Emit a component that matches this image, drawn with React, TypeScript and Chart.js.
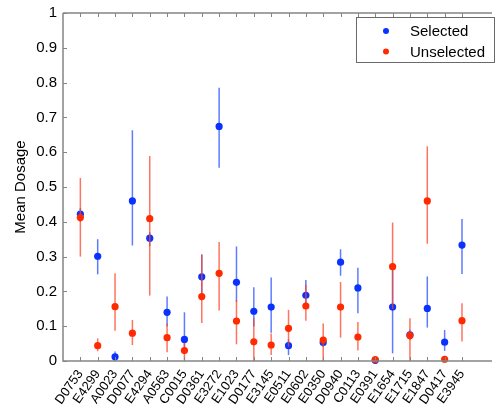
import { useEffect, useRef } from 'react';
import { Chart, registerables } from 'chart.js';

Chart.register(...registerables);

const categories = [
  'D0753', 'E4299', 'A0023', 'D0077', 'E4294', 'A0563', 'C0015', 'D0361',
  'E3272', 'E1023', 'D0177', 'E3145', 'E0511', 'E0602', 'E0350', 'D0940',
  'C0113', 'E0391', 'E1654', 'E1715', 'E1847', 'D0417', 'E3945',
];

const selectedMean = [
  0.422, 0.301, 0.012, 0.460, 0.353, 0.140, 0.062, 0.242,
  0.674, 0.226, 0.143, 0.155, 0.044, 0.189, 0.053, 0.284,
  0.210, 0.002, 0.155, 0.075, 0.151, 0.054, 0.333,
];
const selectedLow = [
  0.400, 0.249, 0.000, 0.332, 0.330, 0.100, 0.030, 0.180,
  0.555, 0.170, 0.099, 0.081, 0.017, 0.150, 0.040, 0.245,
  0.137, 0.000, 0.022, 0.060, 0.096, 0.029, 0.250,
];
const selectedHigh = [
  0.440, 0.350, 0.027, 0.663, 0.370, 0.185, 0.140, 0.305,
  0.785, 0.329, 0.212, 0.240, 0.062, 0.233, 0.065, 0.321,
  0.268, 0.005, 0.280, 0.090, 0.243, 0.089, 0.408,
];

const unselectedMean = [
  0.412, 0.044, 0.156, 0.080, 0.409, 0.067, 0.030, 0.185,
  0.252, 0.115, 0.055, 0.046, 0.094, 0.158, 0.060, 0.155,
  0.069, 0.004, 0.271, 0.073, 0.460, 0.005, 0.116,
];
const unselectedLow = [
  0.300, 0.028, 0.087, 0.046, 0.188, 0.025, 0.000, 0.109,
  0.145, 0.048, 0.000, 0.017, 0.041, 0.116, 0.000, 0.067,
  0.030, 0.000, 0.150, 0.000, 0.337, 0.000, 0.056,
];
const unselectedHigh = [
  0.526, 0.065, 0.252, 0.118, 0.589, 0.108, 0.052, 0.307,
  0.342, 0.175, 0.123, 0.079, 0.147, 0.219, 0.108, 0.227,
  0.112, 0.008, 0.398, 0.123, 0.617, 0.010, 0.166,
];

const yTicks = [0, 0.1, 0.2, 0.3, 0.4, 0.5, 0.6, 0.7, 0.8, 0.9, 1];

const AXIS_COLOR = '#858585';
const FONT = 'Liberation Sans, Arial, sans-serif';

// Vertical error bars, drawn just before each dataset's markers.
const errorBarPlugin = {
  id: 'errorBars',
  beforeDatasetDraw(chart: any, args: any) {
    const ds = chart.data.datasets[args.index];
    const xs = chart.scales.x;
    const ys = chart.scales.y;
    const ctx = chart.ctx;
    ctx.save();
    ctx.strokeStyle = ds.errorColor;
    ctx.lineWidth = 1.5;
    ds.low.forEach((lo: number, i: number) => {
      const px = xs.getPixelForValue(i + 1);
      ctx.beginPath();
      ctx.moveTo(px, ys.getPixelForValue(lo));
      ctx.lineTo(px, ys.getPixelForValue(ds.high[i]));
      ctx.stroke();
    });
    ctx.restore();
  },
};

// Box-style axes: left and bottom axes, top edge, inward tick marks.
const framePlugin = {
  id: 'frame',
  afterDatasetsDraw(chart: any) {
    const { ctx, chartArea } = chart;
    const xs = chart.scales.x;
    const ys = chart.scales.y;
    const { left, right, top, bottom } = chartArea;
    ctx.save();
    ctx.strokeStyle = AXIS_COLOR;
    ctx.lineWidth = 1.5;
    ctx.beginPath();
    ctx.moveTo(left, top);
    ctx.lineTo(left, bottom);
    ctx.lineTo(right, bottom);
    ctx.moveTo(left, top);
    ctx.lineTo(right, top);
    ctx.stroke();
    ctx.lineWidth = 1;
    ctx.beginPath();
    categories.forEach((_, i) => {
      const px = Math.round(xs.getPixelForValue(i + 1)) + 0.5;
      ctx.moveTo(px, bottom);
      ctx.lineTo(px, bottom - 4);
      ctx.moveTo(px, top);
      ctx.lineTo(px, top + 4);
    });
    yTicks.forEach((v) => {
      const py = Math.round(ys.getPixelForValue(v)) + 0.5;
      ctx.moveTo(left, py);
      ctx.lineTo(left + 4, py);
    });
    ctx.stroke();
    ctx.restore();
  },
};

// Boxed legend in the upper right corner.
const boxLegendPlugin = {
  id: 'boxLegend',
  afterDraw(chart: any) {
    const ctx = chart.ctx;
    const bx = 356.5;
    const by = 17.5;
    const bw = 138;
    const bh = 45;
    ctx.save();
    ctx.fillStyle = '#ffffff';
    ctx.fillRect(bx, by, bw, bh);
    ctx.strokeStyle = '#6a6a6a';
    ctx.lineWidth = 1;
    ctx.strokeRect(bx, by, bw, bh);
    ctx.font = `15px ${FONT}`;
    ctx.textBaseline = 'middle';
    ctx.textAlign = 'left';
    chart.data.datasets.forEach((ds: any, i: number) => {
      const cy = by + 13.5 + i * 20.5;
      ctx.fillStyle = ds.pointBackgroundColor;
      ctx.beginPath();
      ctx.arc(bx + 29.5, cy, 3, 0, Math.PI * 2);
      ctx.fill();
      ctx.fillStyle = '#000000';
      ctx.fillText(ds.label, bx + 53.5, cy + 1);
    });
    ctx.restore();
  },
};

export default function App() {
  const canvasRef = useRef<HTMLCanvasElement>(null);

  useEffect(() => {
    document.body.style.margin = '0';
    const canvas = canvasRef.current;
    if (!canvas) return;

    const chart = new Chart(canvas, {
      type: 'scatter',
      data: {
        datasets: [
          {
            label: 'Selected',
            data: selectedMean.map((v, i) => ({ x: i + 1, y: v })),
            low: selectedLow,
            high: selectedHigh,
            errorColor: 'rgba(40, 80, 255, 0.75)',
            pointBackgroundColor: '#0a32ff',
            pointBorderWidth: 0,
            pointRadius: 3.6,
            order: 1,
            clip: false,
          } as any,
          {
            label: 'Unselected',
            data: unselectedMean.map((v, i) => ({ x: i + 1, y: v })),
            low: unselectedLow,
            high: unselectedHigh,
            errorColor: 'rgba(255, 70, 40, 0.75)',
            pointBackgroundColor: '#ff2a00',
            pointBorderWidth: 0,
            pointRadius: 3.6,
            order: 0,
            clip: false,
          } as any,
        ],
      },
      options: {
        responsive: false,
        animation: false,
        events: [],
        layout: { padding: { left: 0, top: 13, right: 0, bottom: 0 } },
        plugins: {
          legend: { display: false },
          tooltip: { enabled: false },
        },
        scales: {
          x: {
            type: 'linear',
            min: 0,
            max: 24.73,
            grid: { display: false, drawTicks: false },
            border: { display: false },
            afterBuildTicks: (scale: any) => {
              scale.ticks = categories.map((_, i) => ({ value: i + 1 }));
            },
            afterFit: (scale: any) => {
              scale.height = 45;
              scale.paddingLeft = 0;
              scale.paddingRight = 0;
            },
            ticks: {
              autoSkip: false,
              minRotation: 55,
              maxRotation: 55,
              padding: 6,
              color: '#000000',
              font: { family: FONT, size: 13 },
              callback: (v: any) => categories[Math.round(Number(v)) - 1] ?? '',
            },
          },
          y: {
            min: 0,
            max: 1,
            grid: { display: false, drawTicks: false },
            border: { display: false },
            afterBuildTicks: (scale: any) => {
              scale.ticks = yTicks.map((v) => ({ value: v }));
            },
            afterFit: (scale: any) => {
              scale.width = 63;
              scale.paddingTop = 0;
              scale.paddingBottom = 0;
            },
            ticks: {
              padding: 6,
              color: '#000000',
              font: { family: FONT, size: 15 },
              callback: (v: any) => {
                const n = Number(v);
                return n === 0 || n === 1 ? String(n) : n.toFixed(1);
              },
            },
            title: {
              display: true,
              text: 'Mean Dosage',
              color: '#000000',
              font: { family: FONT, size: 15 },
              padding: { top: 12, bottom: 0 },
            },
          },
        },
      },
      plugins: [errorBarPlugin, framePlugin, boxLegendPlugin],
    });

    return () => chart.destroy();
  }, []);

  return (
    <div style={{ width: 496, height: 406 }}>
      <canvas ref={canvasRef} width={496} height={406} style={{ display: 'block' }} />
    </div>
  );
}
